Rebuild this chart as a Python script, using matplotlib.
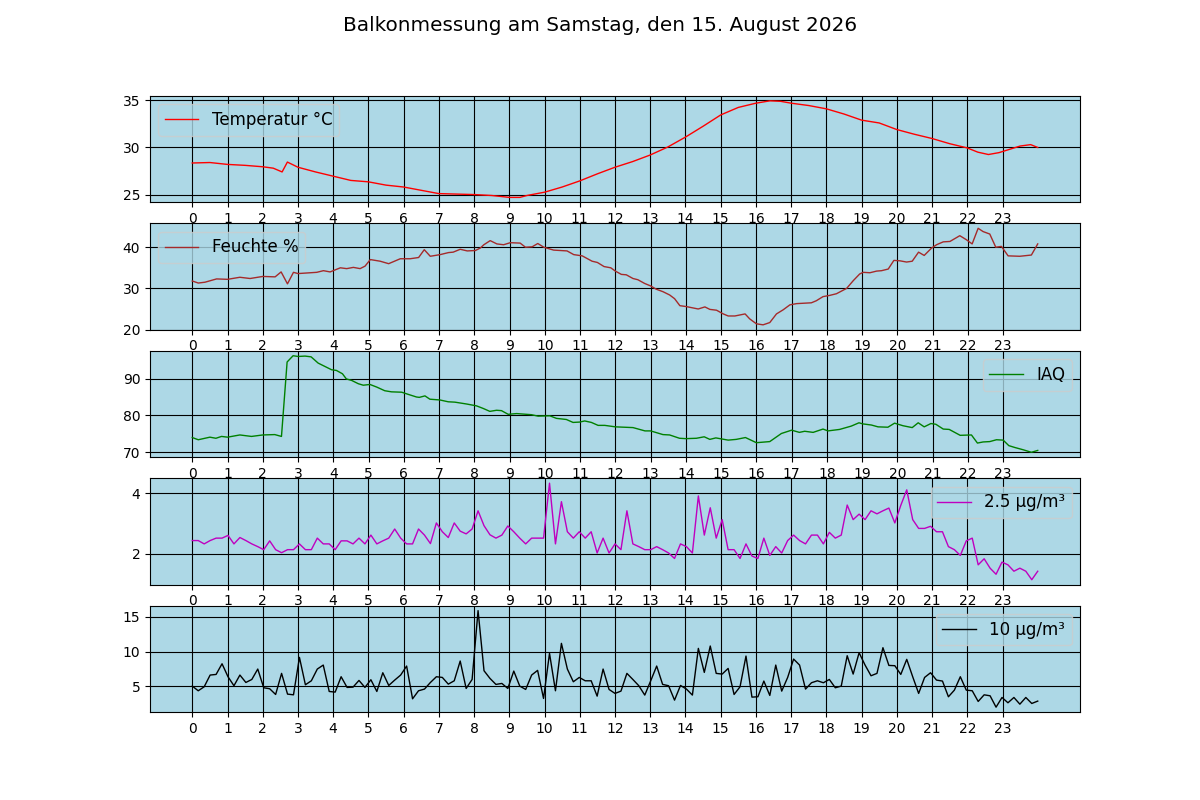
import matplotlib
matplotlib.use("Agg")
import matplotlib.pyplot as plt
import numpy as np

# Titel der Messung
titel = "Balkonmessung am Samstag, den 15. August 2026"

# Temperatur (Stunde, Wert)
temp_zeit = [0, 0.5, 1, 1.5, 2, 2.3, 2.55, 2.7, 3, 3.5, 4, 4.5, 5, 5.5, 6, 6.5,
             7, 7.5, 8, 8.5, 9, 9.3, 9.5, 10, 10.5, 11, 11.5, 12, 12.5, 13, 13.5,
             14, 14.5, 15, 15.5, 16, 16.4, 16.7, 17, 17.5, 18, 18.5, 19, 19.5,
             20, 20.5, 21, 21.5, 22, 22.3, 22.6, 22.9, 23.2, 23.5, 23.8, 24.0]
temperatur = [28.35, 28.4, 28.2, 28.1, 27.95, 27.8, 27.4, 28.45, 27.9, 27.4,
              26.95, 26.5, 26.35, 26.0, 25.8, 25.45, 25.1, 25.05, 25.0, 24.9,
              24.7, 24.7, 24.9, 25.25, 25.8, 26.45, 27.2, 27.9, 28.5, 29.2,
              30.05, 31.1, 32.25, 33.45, 34.25, 34.7, 34.95, 34.9, 34.7, 34.45,
              34.1, 33.55, 32.9, 32.6, 31.9, 31.4, 30.95, 30.4, 29.95, 29.5,
              29.25, 29.45, 29.8, 30.15, 30.3, 30.0]

# Luftfeuchte (Stunde, Wert)
feuchte_zeit = [0, 0.17, 0.36, 0.69, 1, 1.35, 1.64, 2, 2.35, 2.52, 2.7, 2.87,
                3, 3.53, 3.72, 3.91, 4.2, 4.38, 4.57, 4.76, 4.9, 5.05, 5.33,
                5.57, 5.9, 6.18, 6.42, 6.58, 6.75, 7.03, 7.27, 7.4, 7.6, 7.8,
                8.03, 8.17, 8.27, 8.45, 8.64, 8.83, 9.02, 9.3, 9.45, 9.64, 9.8,
                9.97, 10.25, 10.63, 10.82, 11.06, 11.34, 11.49, 11.68, 11.87,
                12.0, 12.17, 12.31, 12.5, 12.64, 12.83, 13.0, 13.16, 13.35,
                13.54, 13.68, 13.83, 14.0, 14.35, 14.54, 14.68, 14.87, 15.06,
                15.2, 15.39, 15.68, 15.81, 16.0, 16.19, 16.38, 16.57, 16.76,
                16.95, 17.14, 17.56, 17.7, 17.89, 18.08, 18.27, 18.56, 18.75,
                18.93, 19.03, 19.22, 19.41, 19.55, 19.74, 19.9, 20.07, 20.26,
                20.42, 20.6, 20.76, 20.97, 21.11, 21.3, 21.49, 21.77, 21.96,
                22.12, 22.29, 22.43, 22.62, 22.79, 22.95, 23.14, 23.47, 23.8,
                23.98]
feuchte = [31.8, 31.3, 31.5, 32.3, 32.2, 32.7, 32.4, 32.9, 32.8, 34.0, 31.1,
           33.9, 33.6, 33.9, 34.3, 34.0, 35.0, 34.8, 35.1, 34.8, 35.4, 37.0,
           36.6, 36.0, 37.2, 37.2, 37.5, 39.4, 37.8, 38.2, 38.7, 38.8, 39.5,
           39.1, 39.2, 39.8, 40.6, 41.6, 40.8, 40.6, 41.1, 41.0, 40.0, 40.1,
           40.9, 40.0, 39.3, 39.1, 38.2, 37.9, 36.6, 36.3, 35.3, 35.0, 34.2,
           33.4, 33.3, 32.4, 32.1, 31.2, 30.6, 29.8, 29.2, 28.4, 27.5, 25.8,
           25.6, 25.0, 25.5, 24.9, 24.7, 23.8, 23.3, 23.3, 23.8, 22.6, 21.4,
           21.15, 21.7, 23.8, 24.8, 26.0, 26.3, 26.5, 27.0, 28.0, 28.3, 28.7,
           30.0, 31.9, 33.5, 33.9, 33.8, 34.2, 34.3, 34.7, 36.8, 36.7, 36.4,
           36.6, 38.8, 38.0, 39.8, 40.6, 41.3, 41.4, 42.8, 41.8, 40.8, 44.6,
           43.8, 43.2, 40.0, 40.2, 37.9, 37.8, 38.1, 40.8]

# Luftqualitaet IAQ (Stunde, Wert)
iaq_zeit = [0, 0.17, 0.5, 0.67, 0.83, 1, 1.35, 1.68, 2, 2.34, 2.53, 2.69, 2.86,
            3, 3.2, 3.37, 3.57, 3.76, 3.95, 4.09, 4.26, 4.37, 4.52, 4.71, 4.85,
            5.04, 5.23, 5.46, 5.65, 5.94, 6.13, 6.36, 6.44, 6.6, 6.74, 7.02,
            7.26, 7.45, 7.78, 8.06, 8.25, 8.44, 8.63, 8.77, 8.96, 9.2, 9.62,
            9.81, 10.14, 10.33, 10.61, 10.8, 10.99, 11.13, 11.32, 11.51, 11.7,
            12.0, 12.5, 12.84, 13.0, 13.35, 13.54, 13.82, 14.0, 14.3, 14.52,
            14.68, 14.85, 15.2, 15.43, 15.69, 16.0, 16.38, 16.71, 17.0, 17.22,
            17.37, 17.61, 17.89, 18.03, 18.36, 18.69, 18.91, 19.02, 19.26,
            19.45, 19.73, 19.92, 20.16, 20.42, 20.59, 20.76, 20.95, 21.09,
            21.3, 21.47, 21.78, 22.1, 22.27, 22.43, 22.62, 22.81, 23.0, 23.16,
            23.33, 23.56, 23.8, 23.98]
iaq = [74.0, 73.4, 74.1, 73.8, 74.3, 74.1, 74.7, 74.3, 74.7, 74.8, 74.3, 94.5,
       96.2, 96.0, 96.1, 95.9, 94.2, 93.3, 92.4, 92.2, 91.3, 89.9, 89.5, 88.6,
       88.2, 88.4, 87.7, 86.7, 86.4, 86.3, 85.7, 85.0, 84.9, 85.3, 84.4, 84.2,
       83.7, 83.6, 83.1, 82.6, 81.9, 81.1, 81.4, 81.3, 80.3, 80.5, 80.2, 79.8,
       79.9, 79.2, 78.9, 78.1, 78.2, 78.5, 78.1, 77.3, 77.3, 76.9, 76.7, 75.8,
       75.8, 74.8, 74.7, 73.8, 73.7, 73.8, 74.2, 73.5, 73.9, 73.3, 73.5, 74.0,
       72.6, 72.9, 75.1, 76.0, 75.4, 75.7, 75.4, 76.3, 75.8, 76.2, 77.1, 78.0,
       77.7, 77.4, 76.9, 76.8, 77.9, 77.2, 76.7, 78.0, 76.9, 77.8, 77.6, 76.3,
       76.2, 74.6, 74.7, 72.5, 72.8, 72.9, 73.4, 73.3, 71.8, 71.3, 70.7, 70.0,
       70.5]

# Feinstaub, Messung etwa alle 10 Minuten
pm25 = [2.44, 2.44, 2.33, 2.44, 2.52, 2.52, 2.61, 2.33, 2.54, 2.44, 2.33, 2.24,
        2.14, 2.43, 2.14, 2.04, 2.14, 2.14, 2.33, 2.14, 2.14, 2.52, 2.33, 2.33,
        2.14, 2.43, 2.43, 2.33, 2.52, 2.33, 2.62, 2.33, 2.43, 2.52, 2.82, 2.52,
        2.33, 2.33, 2.82, 2.62, 2.34, 3.02, 2.73, 2.54, 3.02, 2.75, 2.66, 2.82,
        3.42, 2.93, 2.63, 2.52, 2.62, 2.92, 2.73, 2.52, 2.33, 2.52, 2.52, 2.52,
        4.33, 2.33, 3.72, 2.73, 2.52, 2.73, 2.52, 2.73, 2.03, 2.52, 2.03, 2.33,
        2.14, 3.42, 2.33, 2.24, 2.14, 2.14, 2.24, 2.14, 2.03, 1.85, 2.33, 2.24,
        2.03, 3.91, 2.62, 3.52, 2.52, 3.13, 2.14, 2.14, 1.85, 2.33, 1.93, 1.85,
        2.52, 1.95, 2.24, 2.03, 2.44, 2.62, 2.44, 2.33, 2.62, 2.62, 2.33, 2.71,
        2.52, 2.62, 3.61, 3.13, 3.31, 3.13, 3.42, 3.32, 3.42, 3.51, 3.02, 3.6,
        4.11, 3.13, 2.84, 2.84, 2.91, 2.73, 2.73, 2.24, 2.14, 1.95, 2.43, 2.52,
        1.64, 1.84, 1.53, 1.33, 1.73, 1.64, 1.43, 1.53, 1.43, 1.15, 1.43]
pm10 = [5.05, 4.38, 4.95, 6.63, 6.72, 8.25, 6.39, 5.1, 6.63, 5.57, 6.0, 7.49,
        4.81, 4.67, 3.85, 6.87, 3.9, 3.8, 9.16, 5.24, 5.81, 7.49, 8.06, 4.28,
        4.19, 6.39, 4.86, 4.9, 5.86, 4.86, 5.96, 4.28, 6.96, 5.14, 5.91, 6.63,
        7.92, 3.23, 4.38, 4.62, 5.57, 6.39, 6.29, 5.33, 5.81, 8.64, 4.71, 6.0,
        15.86, 7.25, 6.15, 5.29, 5.43, 4.71, 7.2, 5.05, 4.57, 6.63, 7.3, 3.28,
        9.74, 4.38, 11.17, 7.49, 5.67, 6.29, 5.81, 5.81, 3.61, 7.49, 4.57, 4.0,
        4.33, 6.87, 6.0, 5.1, 3.76, 5.81, 7.92, 5.29, 5.1, 3.04, 5.14, 4.62,
        3.76, 10.45, 7.01, 10.79, 6.87, 6.77, 7.58, 3.85, 4.95, 9.35, 3.47, 3.52,
        5.77, 3.71, 8.06, 4.33, 6.29, 8.92, 8.06, 4.62, 5.53, 5.81, 5.53, 6.0,
        4.81, 5.05, 9.4, 6.77, 9.83, 8.06, 6.53, 6.87, 10.55, 8.01, 7.97, 6.72,
        8.88, 6.39, 4.0, 6.29, 6.96, 5.91, 5.77, 3.52, 4.47, 6.39, 4.47, 4.38,
        2.85, 3.8, 3.66, 2.03, 3.42, 2.66, 3.42, 2.46, 3.42, 2.56, 2.9]
pm_zeit = np.linspace(0, 24, len(pm25))

stunden = list(range(24))

reihen = [
    (temp_zeit, temperatur, "red", "Temperatur °C", "upper left"),
    (feuchte_zeit, feuchte, "brown", "Feuchte %", "upper left"),
    (iaq_zeit, iaq, "green", "IAQ", "upper right"),
    (pm_zeit, pm25, "m", "2.5 µg/m³", "upper right"),
    (pm_zeit, pm10, "black", "10 µg/m³", "upper right"),
]

# Hintergrund auch fuer die Legenden
plt.rcParams["axes.facecolor"] = "lightblue"

fig, axes = plt.subplots(5, 1, figsize=(12, 8), dpi=100)
fig.suptitle(titel, fontsize="x-large")

for ax, (x, y, farbe, name, ort) in zip(axes, reihen):
    ax.plot(x, y, color=farbe, linewidth=1, label=name)
    ax.set_xticks(stunden)
    ax.grid(True, color="black")
    ax.legend(loc=ort, fontsize="large")

fig.savefig("out.png")
